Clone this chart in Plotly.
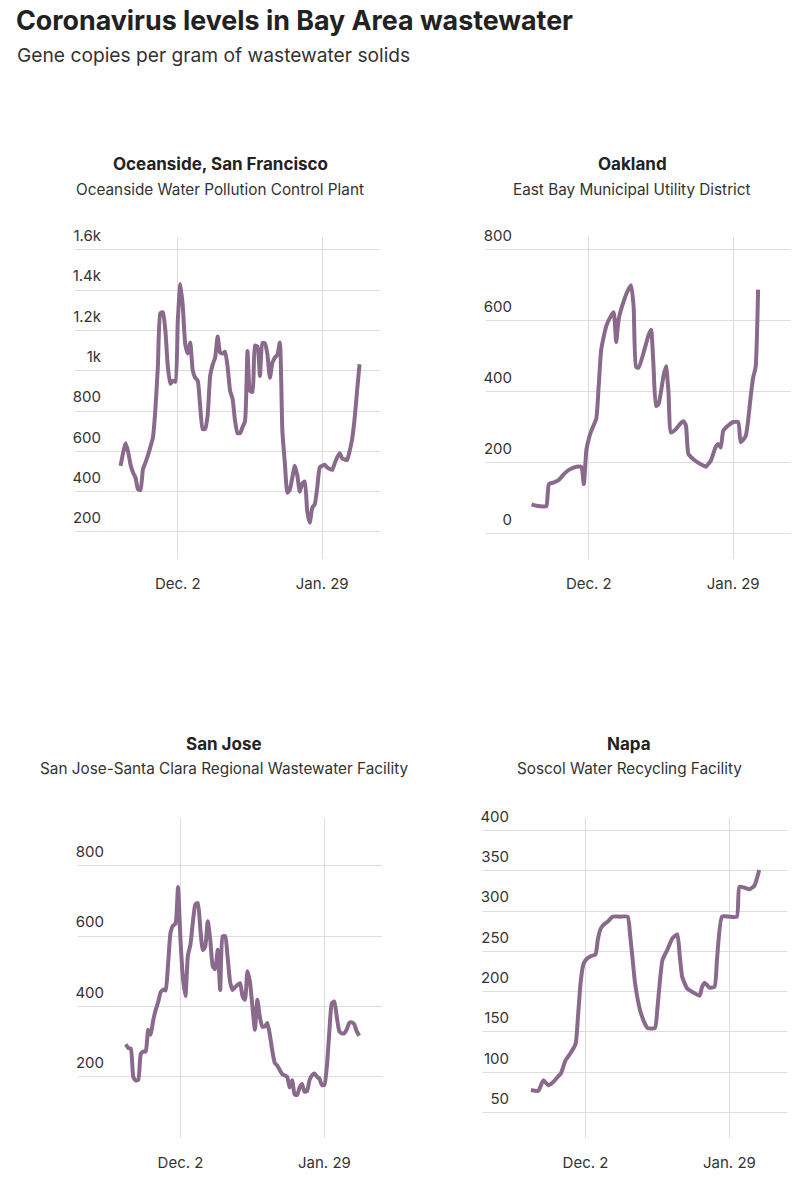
import pandas as pd
import plotly.graph_objects as go

W, H = 801, 1200
# The photo of the page starts ~12px above the page and is squeezed ~1% vertically,
# so vertical pixel targets are converted back to page pixels before use.
CAPTURE_TOP = 12.3
CAPTURE_SCALE = 1200 / 1212.3
LINE_COLOR = "#8a6a8c"
GRID_COLOR = "#dddddd"
TEXT_COLOR = "#333333"
FONT = "Inter"

# x axis: two labelled dates, data stored as days since Dec. 2
base_date = pd.Timestamp("2022-12-02")
tick_dates = ["2022-12-02", "2023-01-29"]
tick_text = ["Dec. 2", "Jan. 29"]
x_range = ["2022-10-21 17:00", "2023-02-21 05:00"]

# Oceanside, San Francisco
sf_days = [-23, -22, -21, -20, -19, -18, -17, -16, -15, -14, -13, -12, -11, -10, -9, -8, -7, -6,
           -5, -4, -3, -2, -1, 0, 1, 2, 3, 4, 5, 6, 7, 8, 9, 10, 11, 12, 13, 14, 15, 16, 17, 18,
           19, 20, 21, 22, 23, 24, 25, 26, 27, 28, 29, 30, 31, 32, 33, 34, 35, 36, 37, 38, 39,
           40, 41, 42, 43, 44, 45, 46, 47, 48, 49, 50, 51, 52, 53, 54, 55, 56, 57, 58, 59, 60,
           61, 62, 63, 64, 65, 66, 67, 68, 69, 70, 71, 72, 73]
sf_values = [528, 590, 640, 600, 535, 495, 470, 412, 408, 511, 544, 580, 622, 668, 809, 1024, 1285,
             1290, 1200, 1020, 935, 950, 945, 1250, 1430, 1320, 1130, 1085, 1140, 1000, 965, 950,
             820, 710, 712, 780, 975, 1030, 1065, 1170, 1090, 1085, 1094, 1020, 900, 860, 750, 690,
             690, 720, 750, 1098, 900, 895, 1125, 1120, 974, 1137, 1135, 1080, 965, 1040, 1065,
             1080, 1140, 700, 540, 395, 410, 470, 528, 480, 400, 440, 450, 300, 246, 320, 337, 420,
             520, 528, 533, 520, 512, 508, 540, 570, 591, 565, 560, 557, 600, 660, 760, 900, 1032]

# Oakland
oak_days = [-23, -21, -18, -17, -16, -14, -12, -10, -8, -5, -3, -2, -1, 0, 1, 3, 4, 5, 7, 9, 10,
            11, 12, 14, 16, 17, 18, 19, 20, 22, 24, 25, 26, 27, 28, 30, 31, 32, 33, 35, 37, 38,
            39, 40, 42, 44, 46, 47, 49, 51, 52, 53, 54, 56, 58, 60, 61, 63, 64, 65, 66, 67, 68]
oak_values = [83, 79, 77, 78, 140, 145, 152, 168, 180, 189, 188, 140, 235, 268, 290, 325, 420, 520,
              585, 615, 624, 540, 605, 655, 690, 700, 640, 470, 468, 510, 560, 575, 470, 360, 365,
              445, 472, 400, 285, 295, 312, 317, 305, 225, 210, 200, 192, 189, 206, 245, 253, 243,
              290, 305, 315, 315, 258, 275, 320, 385, 440, 470, 688]

# San Jose
sj_days = [-22, -21, -20, -19, -18, -17, -16, -15, -14, -13, -12, -11, -10, -9, -8, -7, -6, -5,
           -4, -3, -2, -1, 0, 1, 2, 3, 4, 5, 6, 7, 8, 9, 10, 11, 12, 13, 14, 15, 16, 17, 18, 19,
           20, 21, 22, 24, 25, 26, 27, 28, 29, 30, 31, 32, 33, 34, 35, 36, 37, 38, 39, 40, 41,
           43, 44, 45, 46, 47, 48, 49, 50, 51, 52, 53, 54, 55, 56, 57, 58, 59, 60, 61, 62, 63,
           64, 65, 66, 67, 68, 69, 70, 71, 72]
sj_values = [293, 282, 280, 200, 190, 192, 265, 272, 272, 334, 320, 360, 390, 412, 440, 448, 445,
             520, 610, 630, 635, 739, 590, 480, 430, 545, 575, 640, 690, 694, 620, 560, 571, 642,
             590, 515, 506, 561, 447, 599, 600, 540, 470, 447, 455, 466, 430, 419, 500, 470, 400,
             334, 419, 370, 343, 343, 353, 320, 275, 240, 232, 220, 208, 200, 170, 191, 150, 149,
             170, 180, 158, 160, 191, 205, 210, 201, 195, 177, 177, 230, 330, 409, 414, 370, 330,
             324, 324, 335, 353, 355, 350, 330, 317]

# Napa
napa_days = [-22, -19, -17, -15, -13, -11, -10, -8, -6, -4, -3, -2, -1, 0, 2, 4, 5, 6, 7, 9, 11,
             14, 17, 18, 19, 20, 22, 24, 25, 28, 29, 31, 33, 35, 37, 38, 39, 41, 44, 46, 47, 48,
             50, 52, 53, 55, 58, 61, 62, 64, 66, 68, 70]
napa_values = [78, 77, 90, 84, 88, 95, 98, 115, 124, 135, 170, 210, 232, 239, 244, 246, 265, 277,
               282, 287, 293, 293, 293, 270, 240, 210, 177, 160, 155, 155, 180, 239, 252, 266, 271,
               244, 218, 204, 198, 195, 206, 211, 205, 206, 240, 293, 293, 293, 330, 329, 327, 331,
               351]

# Panel boxes in picture pixels (left, right, top, bottom) and y settings
panels = [
    dict(days=sf_days, values=sf_values, title="Oceanside, San Francisco",
         subtitle="Oceanside Water Pollution Control Plant",
         box=(75, 380, 238, 560), title_x=220, title_y=165, y_range=[64, 1663], dtick=200),
    dict(days=oak_days, values=oak_values, title="Oakland",
         subtitle="East Bay Municipal Utility District",
         box=(486, 791, 238, 560), title_x=632, title_y=165, y_range=[-72, 836], dtick=200),
    dict(days=sj_days, values=sj_values, title="San Jose",
         subtitle="San Jose-Santa Clara Regional Wastewater Facility",
         box=(78, 382, 818, 1138), title_x=224, title_y=744, y_range=[27, 936], dtick=200),
    dict(days=napa_days, values=napa_values, title="Napa",
         subtitle="Soscol Water Recycling Facility",
         box=(483, 787, 818, 1138), title_x=629, title_y=744, y_range=[18.6, 415.8], dtick=50),
]


def px_x(px):
    return px / W


def px_y(py):
    page_y = py / CAPTURE_SCALE - CAPTURE_TOP
    return 1 - page_y / H


fig = go.Figure()
annotations = []

for i, p in enumerate(panels, start=1):
    suffix = "" if i == 1 else str(i)
    x0, x1, y0, y1 = p["box"]

    fig.add_trace(go.Scatter(
        x=[base_date + pd.Timedelta(days=d) for d in p["days"]],
        y=p["values"],
        mode="lines",
        line=dict(color=LINE_COLOR, width=4, shape="spline", smoothing=0.5),
        xaxis="x" + suffix,
        yaxis="y" + suffix,
        showlegend=False,
        hoverinfo="skip",
    ))

    fig.update_layout({
        "xaxis" + suffix: dict(
            domain=[px_x(x0), px_x(x1)], anchor="y" + suffix, type="date", range=x_range,
            tickvals=tick_dates, ticktext=tick_text, showgrid=True, gridcolor=GRID_COLOR,
            gridwidth=1, zeroline=False, showline=False, ticks="", ticklabelstandoff=14,
            tickfont=dict(family=FONT, size=15, color=TEXT_COLOR), fixedrange=True,
        ),
        "yaxis" + suffix: dict(
            domain=[px_y(y1), px_y(y0)], anchor="x" + suffix, range=p["y_range"],
            dtick=p["dtick"], tick0=0, tickformat="~s", showgrid=True, gridcolor=GRID_COLOR,
            gridwidth=1, zeroline=False, showline=False, ticks="",
            ticklabelposition="outside", ticklabelstandoff=-27, ticklabelshift=-14,
            tickfont=dict(family=FONT, size=15, color=TEXT_COLOR), fixedrange=True,
        ),
    })

    annotations.append(dict(
        text="<b>" + p["title"] + "</b>", x=px_x(p["title_x"]), y=px_y(p["title_y"]),
        xref="paper", yref="paper", xanchor="center", yanchor="middle", showarrow=False,
        font=dict(family=FONT, size=17, color="#222222"),
    ))
    annotations.append(dict(
        text=p["subtitle"], x=px_x(p["title_x"]), y=px_y(p["title_y"] + 25),
        xref="paper", yref="paper", xanchor="center", yanchor="middle", showarrow=False,
        font=dict(family=FONT, size=15.3, color=TEXT_COLOR),
    ))

# Main title and subtitle
annotations.append(dict(
    text="<b>Coronavirus levels in Bay Area wastewater</b>", x=px_x(14), y=px_y(21),
    xref="paper", yref="paper", xanchor="left", yanchor="middle", showarrow=False,
    font=dict(family=FONT, size=26.8, color="#222222"),
))
annotations.append(dict(
    text="Gene copies per gram of wastewater solids", x=px_x(15), y=px_y(56),
    xref="paper", yref="paper", xanchor="left", yanchor="middle", showarrow=False,
    font=dict(family=FONT, size=19.2, color=TEXT_COLOR),
))

fig.update_layout(
    width=W, height=H,
    margin=dict(l=0, r=0, t=0, b=0),
    paper_bgcolor="white", plot_bgcolor="white",
    annotations=annotations,
    font=dict(family=FONT, color=TEXT_COLOR),
)

# pin the figure to the top-left corner of the page so it fills the window exactly
pin_figure = (
    "document.body.style.margin='0';"
    "document.body.style.overflow='hidden';"
    "var gd=document.getElementById('{plot_id}');"
    "gd.style.position='absolute';gd.style.left='0px';gd.style.top='0px';"
)

fig.write_html("out.html", config={"displayModeBar": False}, post_script=pin_figure)
